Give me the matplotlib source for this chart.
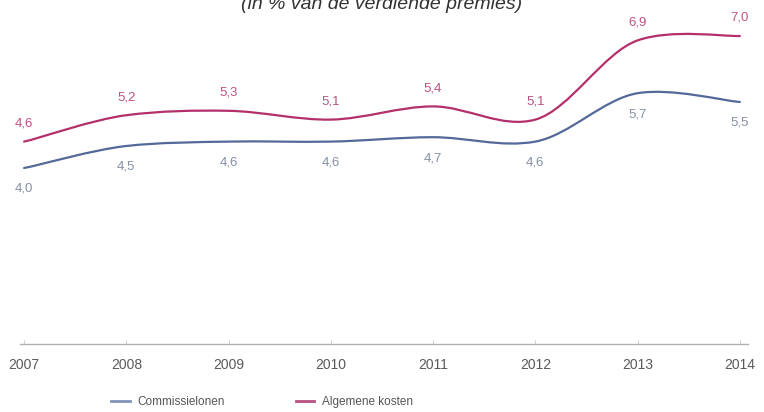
import numpy as np
import matplotlib
matplotlib.use("Agg")
import matplotlib.pyplot as plt
from matplotlib.path import Path
from matplotlib.patches import PathPatch
from matplotlib.lines import Line2D

plt.rcParams["font.family"] = ["Liberation Sans Narrow", "Liberation Sans", "DejaVu Sans"]

years = [2007, 2008, 2009, 2010, 2011, 2012, 2013, 2014]
commissie = [4.0, 4.5, 4.6, 4.6, 4.7, 4.6, 5.7, 5.5]
algemeen = [4.6, 5.2, 5.3, 5.1, 5.4, 5.1, 6.9, 7.0]
labels_commissie = ["4,0", "4,5", "4,6", "4,6", "4,7", "4,6", "5,7", "5,5"]
labels_algemeen = ["4,6", "5,2", "5,3", "5,1", "5,4", "5,1", "6,9", "7,0"]

BLUE, BLUE_TXT = "#53699a", "#8590a4"
PINK, PINK_TXT = "#b3306a", "#bb5283"


def smooth_path(x, y, k=0.85):
    # Catmull-Rom style curve through the points, as cubic Bezier segments
    x = np.asarray(x, float); y = np.asarray(y, float)
    n = len(x)
    verts = [(x[0], y[0])]; codes = [Path.MOVETO]
    for i in range(n - 1):
        i0 = max(i - 1, 0); i3 = min(i + 2, n - 1)
        c1 = (x[i] + (x[i + 1] - x[i0]) / 6, y[i] + k * (y[i + 1] - y[i0]) / 6)
        c2 = (x[i + 1] - (x[i3] - x[i]) / 6, y[i + 1] - k * (y[i3] - y[i]) / 6)
        verts += [c1, c2, (x[i + 1], y[i + 1])]
        codes += [Path.CURVE4] * 3
    return Path(verts, codes)


fig = plt.figure(figsize=(7.64, 4.12), dpi=100)
ax = fig.add_axes([20 / 764, 1 - 344 / 412, 728 / 764, 330 / 412])
ax.set_xlim(2006.96, 2014.08)
ax.set_ylim(0, 7.5)

for vals, col in [(commissie, BLUE), (algemeen, PINK)]:
    ax.add_patch(PathPatch(smooth_path(years, vals), facecolor="none",
                           edgecolor=col, lw=1.6, capstyle="round"))

for x, v, t in zip(years, algemeen, labels_algemeen):
    ax.annotate(t, (x, v), xytext=(0, 13), textcoords="offset points",
                ha="center", va="center", fontsize=9.5, color=PINK_TXT)
for x, v, t in zip(years, commissie, labels_commissie):
    ax.annotate(t, (x, v), xytext=(0, -15), textcoords="offset points",
                ha="center", va="center", fontsize=9.5, color=BLUE_TXT)

for s in ["top", "right", "left"]:
    ax.spines[s].set_visible(False)
ax.spines["bottom"].set_color("#b0b0b0")
ax.spines["bottom"].set_linewidth(1.0)
ax.set_yticks([])
ax.set_xticks(years)
ax.set_xticklabels([str(y) for y in years])
ax.tick_params(axis="x", direction="in", length=3, color="#d0d0d0",
               labelsize=10, labelcolor="#5a5a5a", pad=10)

fig.text(0.5, 1 - 9 / 412, "(in % van de verdiende premies)", ha="center",
         va="baseline", fontsize=14, style="italic", color="#333333",
         family=["Liberation Sans", "DejaVu Sans"])

handles = [Line2D([], [], color="#8393bb", lw=2),
           Line2D([], [], color="#b8507e", lw=2)]
fig.legend(handles, ["Commissielonen", "Algemene kosten"], ncol=2,
           loc="center", bbox_to_anchor=(262 / 764, 1 - 402 / 412),
           frameon=False, fontsize=8.5, labelcolor="#555555",
           handlelength=1.6, handletextpad=0.6, columnspacing=6)

fig.savefig("out.png", dpi=100)
